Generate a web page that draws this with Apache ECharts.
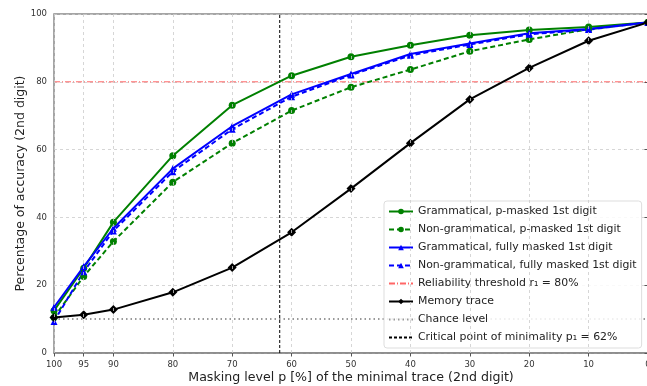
<!DOCTYPE html>
<html>
<head>
<meta charset="utf-8">
<script src="https://cdn.jsdelivr.net/npm/echarts@6/dist/echarts.min.js"></script>
<style>
  html, body { margin: 0; padding: 0; background: #fff; }
  #chart { width: 647px; height: 386px; }
</style>
</head>
<body>
<div id="chart"></div>
<script>
// masking level p [%] of the minimal trace
var maskLevels = [100, 95, 90, 80, 70, 60, 50, 40, 30, 20, 10, 0];
var xTicks = [100, 95, 90, 80, 70, 60, 50, 40, 30, 20, 10, 0];

// accuracy (2nd digit) per series
var gramP      = [12.5, 25.0, 38.6, 58.2, 73.1, 81.8, 87.4, 90.8, 93.7, 95.3, 96.2, 97.5];
var nonGramP   = [10.5, 22.6, 32.9, 50.4, 61.9, 71.5, 78.4, 83.6, 89.0, 92.5, 95.5, 97.5];
var gramFull   = [13.5, 25.5, 36.8, 54.4, 66.9, 76.3, 82.3, 88.2, 91.3, 94.3, 95.6, 97.5];
var nonGramFull= [9.3, 24.0, 36.0, 53.5, 66.0, 75.6, 82.0, 87.8, 91.0, 94.0, 95.4, 97.5];
var memTrace   = [10.5, 11.3, 12.8, 17.9, 25.2, 35.6, 48.5, 61.9, 74.8, 84.1, 92.1, 97.5];

var threshold = 80;
var chanceLevel = 10;
var criticalPoint = 62;

function pairs(ys) {
    var out = [];
    for (var i = 0; i < maskLevels.length; i++) {
        out.push([maskLevels[i], ys[i]]);
    }
    return out;
}

var chart = echarts.init(document.getElementById('chart'));

var font = 'DejaVu Sans';

var mainSeries = [
    {name: 'Grammatical, p-masked 1st digit', data: gramP, color: '#008000', type: 'solid', symbol: 'circle', size: 7},
    {name: 'Non-grammatical, p-masked 1st digit', data: nonGramP, color: '#008000', type: [5, 3], symbol: 'circle', size: 7},
    {name: 'Grammatical, fully masked 1st digit', data: gramFull, color: '#0000ff', type: 'solid', symbol: 'triangle', size: 7},
    {name: 'Non-grammatical, fully masked 1st digit', data: nonGramFull, color: '#0000ff', type: [5, 3], symbol: 'triangle', size: 7}
];

var series = [];
mainSeries.forEach(function (s) {
    series.push({
        name: s.name,
        type: 'line',
        data: pairs(s.data),
        symbol: s.symbol,
        symbolSize: s.size,
        itemStyle: {color: s.color},
        lineStyle: {color: s.color, width: 2, type: s.type},
        z: 3
    });
});

// reliability threshold
series.push({
    name: 'Reliability threshold r\u2081 = 80%',
    type: 'line',
    data: [[100, threshold], [0, threshold]],
    symbol: 'none',
    itemStyle: {color: 'rgba(255,0,0,0.6)'},
    lineStyle: {color: 'rgba(255,0,0,0.6)', width: 1, type: [6, 2, 1, 2]},
    z: 2
});

// memory trace
series.push({
    name: 'Memory trace',
    type: 'line',
    data: pairs(memTrace),
    symbol: 'diamond',
    symbolSize: 9,
    itemStyle: {color: '#000'},
    lineStyle: {color: '#000', width: 2},
    z: 3
});

// chance level
series.push({
    name: 'Chance level',
    type: 'line',
    data: [[100, chanceLevel], [0, chanceLevel]],
    symbol: 'none',
    itemStyle: {color: '#999'},
    lineStyle: {color: '#999', width: 2, type: [1.5, 3]},
    z: 2
});

// critical point of minimality
series.push({
    name: 'Critical point of minimality p\u2081 = 62%',
    type: 'line',
    data: [[criticalPoint, 0], [criticalPoint, 100]],
    symbol: 'none',
    itemStyle: {color: '#000'},
    lineStyle: {color: '#000', width: 1, type: [3, 2]},
    z: 2
});

// vertical grid lines
series.push({
    type: 'line',
    data: [],
    silent: true,
    markLine: {
        silent: true,
        symbol: 'none',
        label: {show: false},
        lineStyle: {color: '#ccc', width: 0.8, type: [3, 3]},
        data: xTicks.map(function (v) { return {xAxis: v}; })
    },
    z: 1
});

// legend entries: reference lines show no marker
var legendData = series.filter(function (s) { return s.name; }).map(function (s) {
    var item = {name: s.name};
    if (s.symbol === 'none') {
        item.itemStyle = {opacity: 0};
    }
    return item;
});

var option = {
    animation: false,
    textStyle: {fontFamily: font},
    grid: {
        left: 54, right: -1, top: 14, bottom: 33,
        outerBoundsMode: 'none',
        containLabel: false,
        show: true, borderColor: '#888', borderWidth: 1.5
    },
    legend: {
        orient: 'vertical',
        left: 384, top: 201,
        padding: [5, 5, 5, 4],
        itemWidth: 24, itemHeight: 7, itemGap: 7,
        backgroundColor: 'rgba(255,255,255,0.85)',
        borderColor: '#ddd', borderWidth: 1, borderRadius: 3,
        textStyle: {fontFamily: font, fontSize: 10.9, color: '#222'},
        data: legendData
    },
    xAxis: {
        type: 'value',
        min: 0, max: 100, interval: 5,
        inverse: true,
        name: 'Masking level p [%] of the minimal trace (2nd digit)',
        nameLocation: 'middle',
        nameGap: 18,
        nameMoveOverlap: false,
        nameTextStyle: {fontFamily: font, fontSize: 12.6, color: '#222'},
        axisLine: {lineStyle: {color: '#888', width: 1.5}},
        axisTick: {show: true, length: 3.5, customValues: xTicks, lineStyle: {color: '#555'}},
        axisLabel: {
            customValues: xTicks,
            fontSize: 8.5, color: '#333', margin: 7,
            formatter: function (v) { return xTicks.indexOf(v) >= 0 ? String(v) : ''; }
        },
        splitLine: {show: false}
    },
    yAxis: {
        type: 'value',
        min: 0, max: 100, interval: 20,
        name: 'Percentage of accuracy (2nd digit)',
        nameLocation: 'middle',
        nameGap: 27,
        nameMoveOverlap: false,
        nameTextStyle: {fontFamily: font, fontSize: 12.5, color: '#222'},
        axisLine: {show: true, lineStyle: {color: '#555', width: 1.5}},
        axisTick: {show: true, length: 3.5, lineStyle: {color: '#555'}},
        axisLabel: {fontSize: 8.5, color: '#333', margin: 7},
        splitLine: {show: true, lineStyle: {color: '#ccc', width: 0.8, type: [3, 3]}}
    },
    series: series
};

chart.setOption(option);
</script>
</body>
</html>
